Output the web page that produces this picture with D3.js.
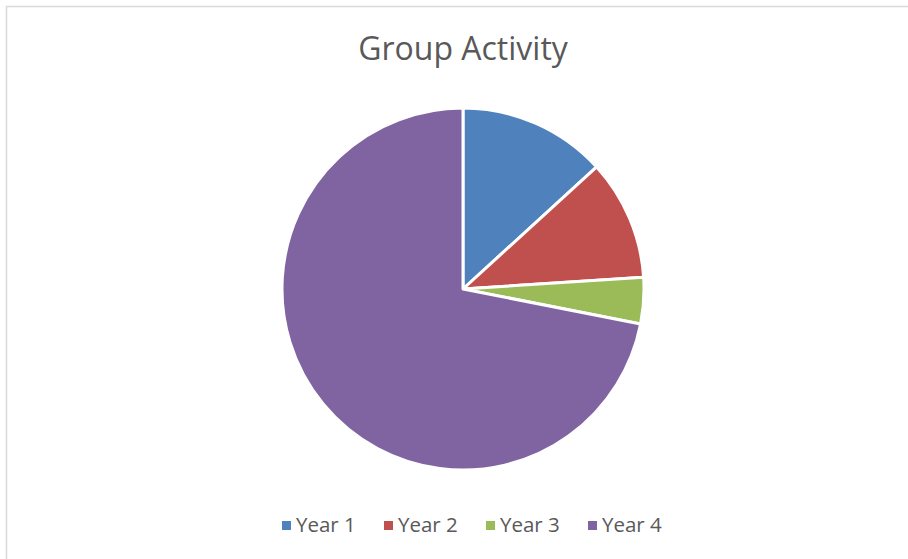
<!DOCTYPE html>
<html>
<head>
<meta charset="utf-8">
<script src="https://cdn.jsdelivr.net/npm/d3@7"></script>
<style>
  body { margin: 0; background: #fff; }
  svg { display: block; }
</style>
</head>
<body>
<svg id="drawing_region"></svg>
<script>
// data
const categories = ["Year 1", "Year 2", "Year 3", "Year 4"];
const values = [16, 13, 5, 87];
const colors = ["#4f81bd", "#c0504d", "#9bbb59", "#8064a2"];

const width = 908, height = 559;
const cx = 463, cy = 289, radius = 181;

const svg = d3.select("#drawing_region")
    .attr("width", width)
    .attr("height", height);

// chart area border (only the top and left edges are in frame)
svg.append("path")
    .attr("d", `M6.5,${height} V6.5 H${width}`)
    .attr("fill", "none")
    .attr("stroke", "#d9d9d9")
    .attr("stroke-width", 1.5);

svg.append("text")
    .attr("x", cx)
    .attr("y", 60)
    .attr("text-anchor", "middle")
    .attr("font-family", "'Open Sans', sans-serif")
    .attr("font-size", "32px")
    .attr("fill", "#595959")
    .text("Group Activity");

const data = categories.map((c, i) => ({ label: c, value: values[i], color: colors[i] }));

const pie = d3.pie()
    .value(d => d.value)
    .sort(null);

const arc = d3.arc()
    .innerRadius(0)
    .outerRadius(radius);

const chart = svg.append("g")
    .attr("transform", `translate(${cx}, ${cy})`);

chart.selectAll("path")
    .data(pie(data))
    .enter()
    .append("path")
    .attr("d", arc)
    .attr("fill", d => d.data.color)
    .attr("stroke", "#fff")
    .attr("stroke-width", 3)
    .attr("stroke-linejoin", "round");

// legend
const legendX = d3.scaleBand()
    .domain(categories)
    .range([282, 690]);

const legend = svg.append("g")
    .selectAll("g")
    .data(data)
    .enter()
    .append("g")
    .attr("transform", d => `translate(${legendX(d.label)}, 532)`);

legend.append("rect")
    .attr("x", 0)
    .attr("y", -11)
    .attr("width", 9)
    .attr("height", 9)
    .attr("fill", d => d.color);

legend.append("text")
    .attr("x", 14)
    .attr("y", 0)
    .attr("font-family", "'Open Sans', sans-serif")
    .attr("font-size", "20.5px")
    .attr("fill", "#595959")
    .text(d => d.label);
</script>
</body>
</html>
